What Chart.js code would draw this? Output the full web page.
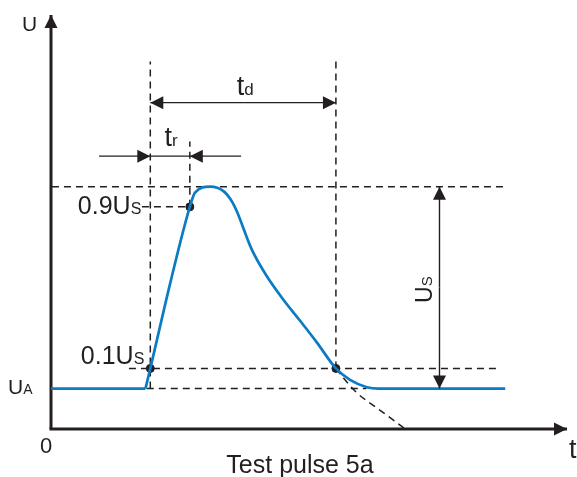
<!DOCTYPE html>
<html>
<head>
<meta charset="utf-8">
<script src="https://cdn.jsdelivr.net/npm/chart.js@4.4.0/dist/chart.umd.min.js"></script>
<style>
    html, body { margin: 0; padding: 0; background: #fff; }
    canvas { display: block; }
</style>
</head>
<body>
<canvas id="pulse_Chart" width="577" height="477"></canvas>
<script>
// 펄스 곡선 (t, U) - 그림에서 읽은 값
const pulseT = [5.09, 5.35, 6.47, 7.48, 7.76, 8.57, 9.29, 9.74, 10.01, 10.82, 11.63, 12.52, 13.42, 14.32, 15.35, 16.11, 17.02, 17.64, 24.47];
const pulseU = [2, 3, 7.4, 11, 11.7, 12, 11.78, 11.28, 10.78, 8.88, 7.56, 6.4, 5.36, 4.29, 3.0, 2.43, 2.07, 2.0, 2.0];
const startT = [0, 5.09];
const startU = [2, 2];

// 점선 연장 (감쇠 꼬리)
const tailT = [15.35, 15.76, 16.48, 17.56, 18.54, 19.08];
const tailU = [3.0, 2.52, 1.79, 1.04, 0.38, 0];

// 기준값
const uA = 2;
const uS = 10;
const t10 = 5.35;
const t90 = 7.48;
const tFall10 = 15.35;
const tMax = 27.8;
const uMax = 20.5;

// 화살표 위치
const tdLevel = 16.16;
const trLevel = 13.51;
const trLeftT = 2.59;
const trRightT = 10.24;
const usT = 20.93;

const black = '#231f20';
const blue = '#0b7bc4';
const fontFamily = '"Liberation Sans", Arial, sans-serif';

const xy = (ts, us) => ts.map((t, i) => ({ x: t, y: us[i] }));
const dashed = (ts, us) => ({
    data: xy(ts, us),
    showLine: true,
    borderColor: black,
    borderWidth: 1.5,
    borderDash: [7, 5],
    pointRadius: 0,
    tension: 0,
});

// 점선 기준선
const refLines = [
    dashed([t10, t10], [uA, 18.2]),
    dashed([tFall10, tFall10], [uA + 0.1 * uS, 18.2]),
    dashed([t90, t90], [uA + 0.9 * uS, 14.24]),
    dashed([0.05, 24.47], [uA + uS, uA + uS]),
    dashed([4.9, t90], [uA + 0.9 * uS, uA + 0.9 * uS]),
    dashed([4.2, 24.2], [uA + 0.1 * uS, uA + 0.1 * uS]),
    dashed([5.16, 17.0], [uA, uA]),
];

function arrowHead(ctx, x1, y1, x2, y2) {
    const a = Math.atan2(y2 - y1, x2 - x1);
    const len = 13, half = 6.5;
    ctx.beginPath();
    ctx.moveTo(x2, y2);
    ctx.lineTo(x2 - len * Math.cos(a) + half * Math.sin(a), y2 - len * Math.sin(a) - half * Math.cos(a));
    ctx.lineTo(x2 - len * Math.cos(a) - half * Math.sin(a), y2 - len * Math.sin(a) + half * Math.cos(a));
    ctx.closePath();
    ctx.fill();
}

function arrow(ctx, x1, y1, x2, y2, width) {
    ctx.lineWidth = width;
    ctx.beginPath();
    ctx.moveTo(x1, y1);
    ctx.lineTo(x2, y2);
    ctx.stroke();
    arrowHead(ctx, x1, y1, x2, y2);
}

// 아래첨자 텍스트 (같은 기준선, 작은 글꼴)
function subText(ctx, main, sub, x, y, align, big, small) {
    const fb = big + 'px ' + fontFamily;
    const fs = small + 'px ' + fontFamily;
    ctx.font = fb;
    const wb = ctx.measureText(main).width;
    ctx.font = fs;
    const ws = ctx.measureText(sub).width;
    let left = x;
    if (align === 'right') left = x - wb - ws;
    if (align === 'center') left = x - (wb + ws) / 2;
    ctx.textAlign = 'left';
    ctx.textBaseline = 'alphabetic';
    ctx.font = fb;
    ctx.fillText(main, left, y);
    ctx.font = fs;
    ctx.fillText(sub, left + wb, y);
}

const diagramPlugin = {
    id: 'diagram',
    beforeDatasetsDraw(chart) {
        const { ctx, scales: { x, y } } = chart;
        ctx.save();
        ctx.strokeStyle = black;
        ctx.fillStyle = black;
        // 축
        arrow(ctx, x.getPixelForValue(0), y.getPixelForValue(0), x.getPixelForValue(0), y.getPixelForValue(uMax), 3);
        arrow(ctx, x.getPixelForValue(0) - 1.5, y.getPixelForValue(0), x.getPixelForValue(tMax), y.getPixelForValue(0), 3);
        ctx.restore();
    },
    afterDatasetsDraw(chart) {
        const { ctx, scales: { x, y } } = chart;
        ctx.save();
        ctx.strokeStyle = black;
        ctx.fillStyle = black;

        // td 화살표
        const tdY = y.getPixelForValue(tdLevel);
        const x10 = x.getPixelForValue(t10);
        const xF = x.getPixelForValue(tFall10);
        const mid = (x10 + xF) / 2;
        arrow(ctx, mid, tdY, x10, tdY, 1.4);
        arrow(ctx, mid, tdY, xF, tdY, 1.4);

        // tr 화살표
        const trY = y.getPixelForValue(trLevel);
        const x90 = x.getPixelForValue(t90);
        arrow(ctx, x.getPixelForValue(trLeftT), trY, x10, trY, 1.4);
        arrow(ctx, x.getPixelForValue(trRightT), trY, x90, trY, 1.4);
        ctx.lineWidth = 1.4;
        ctx.beginPath();
        ctx.moveTo(x10, trY);
        ctx.lineTo(x90, trY);
        ctx.stroke();

        // Us 화살표
        const usX = x.getPixelForValue(usT);
        const yTop = y.getPixelForValue(uA + uS);
        const yBase = y.getPixelForValue(uA);
        const yMid = (yTop + yBase) / 2;
        arrow(ctx, usX, yMid, usX, yTop, 1.4);
        arrow(ctx, usX, yMid, usX, yBase, 1.4);

        // 라벨
        const x0 = x.getPixelForValue(0);
        const y0 = y.getPixelForValue(0);
        ctx.font = '21px ' + fontFamily;
        ctx.textAlign = 'left';
        ctx.textBaseline = 'alphabetic';
        ctx.fillText('U', x0 - 29, y.getPixelForValue(uMax) + 16);
        ctx.font = '22px ' + fontFamily;
        ctx.textAlign = 'center';
        ctx.fillText('0', x0 - 5, y0 + 24);
        ctx.textAlign = 'left';
        ctx.font = '27px ' + fontFamily;
        ctx.fillText('t', x.getPixelForValue(tMax) + 2, y0 + 29);
        ctx.font = '25px ' + fontFamily;
        ctx.textAlign = 'center';
        ctx.fillText('Test pulse 5a', 300, y0 + 44);

        subText(ctx, 'U', 'A', x0 - 43, yBase + 5, 'left', 21, 14);
        subText(ctx, '0.1U', 'S', x10 - 6, y.getPixelForValue(uA + 0.1 * uS) - 4, 'right', 25, 16);
        subText(ctx, '0.9U', 'S', x10 - 9, y.getPixelForValue(uA + 0.9 * uS) + 7, 'right', 25, 16);
        subText(ctx, 't', 'd', mid + 2, tdY - 8, 'center', 27, 17);
        subText(ctx, 't', 'r', (x10 + x90) / 2 + 1, trY - 10, 'center', 27, 17);

        ctx.save();
        ctx.translate(usX - 7, yMid + 2);
        ctx.rotate(-Math.PI / 2);
        subText(ctx, 'U', 'S', 0, 0, 'center', 23, 15);
        ctx.restore();

        ctx.restore();
    }
};

const ctxPulse = document.getElementById('pulse_Chart').getContext('2d');
new Chart(ctxPulse, {
    type: 'scatter',
    data: {
        datasets: [
            {
                data: xy(startT, startU),
                showLine: true,
                borderColor: blue,
                borderWidth: 2.7,
                pointRadius: 0,
            },
            {
                data: xy(pulseT, pulseU),
                showLine: true,
                borderColor: blue,
                borderWidth: 2.7,
                pointRadius: 0,
                cubicInterpolationMode: 'monotone',
            },
            Object.assign(dashed(tailT, tailU), { cubicInterpolationMode: 'monotone' }),
            ...refLines,
            {
                data: xy([t10, t90, tFall10], [uA + 0.1 * uS, uA + 0.9 * uS, uA + 0.1 * uS]),
                pointRadius: 4,
                pointBackgroundColor: black,
                pointBorderColor: black,
                showLine: false,
            },
        ]
    },
    options: {
        responsive: false,
        animation: false,
        devicePixelRatio: 1,
        layout: {
            padding: { left: 51, right: 10, top: 15, bottom: 48 }
        },
        plugins: {
            legend: { display: false },
            title: { display: false },
            tooltip: { enabled: false }
        },
        scales: {
            x: { type: 'linear', display: false, min: 0, max: tMax },
            y: { type: 'linear', display: false, min: 0, max: uMax }
        },
        elements: {
            line: { borderCapStyle: 'butt' }
        }
    },
    plugins: [diagramPlugin]
});
</script>
</body>
</html>
